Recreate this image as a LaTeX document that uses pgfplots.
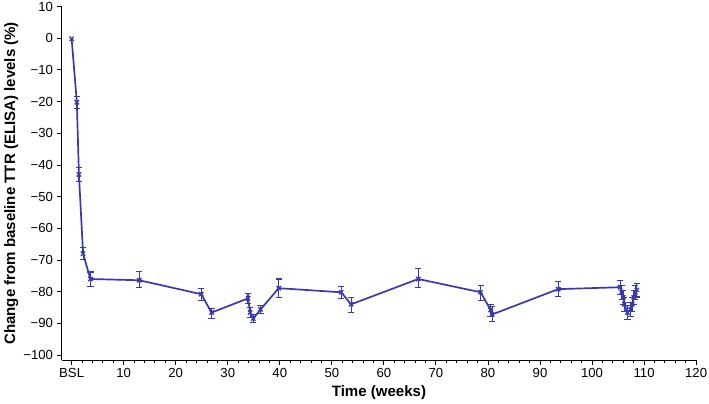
\documentclass[border=0pt]{standalone}
\usepackage{pgfplots}
\pgfplotsset{compat=1.18}
\usepackage{pgfplotstable}
\usepackage{fontspec}
\setmainfont{Liberation Sans}
\definecolor{ln}{RGB}{56,56,176}
% mean values
\pgfplotstableread{
x y
0 -0.2
1.0 -20.2
1.4 -43.0
2.2 -68.0
3.6 -76.0
13.0 -76.4
24.9 -80.8
26.9 -86.6
33.9 -82.1
34.3 -86.6
34.9 -88.5
36.3 -85.6
39.8 -78.9
51.8 -80.2
53.7 -84.0
66.6 -76.0
78.6 -80.2
80.5 -85.8
80.8 -87.2
93.5 -79.2
105.4 -78.6
105.7 -80.2
106.0 -81.8
106.2 -84.0
106.8 -86.6
107.4 -85.6
107.7 -84.0
108.0 -81.8
108.3 -80.2
108.6 -79.5
}\meantable
% error bar ends (lower, upper), one bar per block
\pgfplotstableread{
x e
1.0 -22.1
1.0 -18.5
nan nan
1.4 -45.3
1.4 -40.7
nan nan
2.2 -69.9
2.2 -66.1
nan nan
3.6 -78.4
3.6 -73.8
nan nan
13.0 -78.8
13.0 -73.5
nan nan
24.9 -82.7
24.9 -79.0
nan nan
26.9 -88.5
26.9 -85.3
nan nan
33.9 -83.8
33.9 -80.6
nan nan
34.3 -88.2
34.3 -85.0
nan nan
34.9 -89.7
34.9 -87.3
nan nan
36.3 -86.8
36.3 -84.4
nan nan
39.8 -81.8
39.8 -76.0
nan nan
51.8 -82.1
51.8 -78.3
nan nan
53.7 -86.6
53.7 -81.8
nan nan
66.6 -78.6
66.6 -72.8
nan nan
78.6 -82.9
78.6 -78.1
nan nan
80.5 -87.8
80.5 -84.0
nan nan
80.8 -89.5
80.8 -84.8
nan nan
93.5 -81.6
93.5 -76.7
nan nan
105.4 -80.8
105.4 -76.4
nan nan
105.7 -82.4
105.7 -78.0
nan nan
106.0 -84.0
106.0 -79.6
nan nan
106.2 -86.2
106.2 -81.8
nan nan
106.8 -88.8
106.8 -84.4
nan nan
107.4 -87.8
107.4 -83.4
nan nan
107.7 -86.2
107.7 -81.8
nan nan
108.0 -84.0
108.0 -79.6
nan nan
108.3 -82.4
108.3 -78.0
nan nan
108.6 -81.7
108.6 -77.3
}\errtable
\begin{document}
\begin{tikzpicture}
\begin{axis}[
  scale only axis,
  width=506pt, height=282pt,
  xmin=-1.9, xmax=120,
  ymin=-101.6, ymax=10,
  axis x line*=bottom,
  axis y line*=left,
  axis line style={black, line width=0.9pt},
  tick align=outside,
  major tick length=3.8pt,
  minor tick length=2.4pt,
  xtick style={black, line width=0.7pt},
  ytick style={black, line width=0.7pt},
  xtick={0,10,...,120},
  xticklabels={BSL,10,20,30,40,50,60,70,80,90,100,110,120},
  minor x tick num=4,
  ytick={-100,-90,...,10},
  yticklabels={−100,−90,−80,−70,−60,−50,−40,−30,−20,−10,0,10},
  tick label style={black, inner sep=1.5pt, font=\fontsize{10.5}{12}\selectfont},
  xticklabel style={yshift=-1pt},
  yticklabel style={xshift=-1.5pt},
  xlabel={\bfseries Time (weeks)},
  ylabel={\bfseries Change from baseline TTR (ELISA) levels (\%)},
  label style={black, font=\fontsize{12}{14}\selectfont},
  xlabel style={yshift=-1.5pt},
  ylabel style={yshift=-1pt},
  unbounded coords=jump,
  clip=false,
]
\addplot[draw=ln, line width=0.9pt, mark=none] table[x=x, y=e] {\errtable};
\addplot[only marks, mark=-, mark size=2.5pt, mark options={draw=ln, line width=0.9pt}] table[x=x, y=e] {\errtable};
\addplot[draw=ln, line width=1.35pt, mark=x, mark size=2.4pt, mark options={draw=ln, line width=1.1pt}]
  table[x=x, y=y] {\meantable};
\end{axis}
\end{tikzpicture}
\end{document}
